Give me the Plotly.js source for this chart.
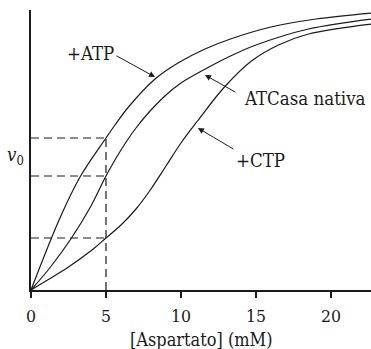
<!DOCTYPE html>
<html><head><meta charset="utf-8">
<script src="https://cdn.plot.ly/plotly-3.0.1.min.js"></script>
<style>html,body{margin:0;padding:0;background:#fff;}#chart{width:371px;height:349px;}</style>
</head><body><div id="chart"></div>
<script>
// [Aspartato] (mM) vs v0 (arbitrary units)
const atpX = [0, 1.93, 3.27, 5, 5.6, 6.5, 8.27, 9.8, 11.6, 13.3, 16, 19, 22.7];
const atpV = [0, 72, 113, 152, 165, 183, 211, 227, 241, 251, 263, 271, 277];
const natX = [0, 1.3, 2.7, 4, 5, 6, 7, 8, 9, 10, 11.5, 13.3, 15, 18.5, 22.7];
const natV = [0, 23, 52, 84, 114, 140, 162, 180, 195, 207, 220, 234, 245, 261, 271];
const ctpX = [0, 1.1, 2.5, 4.15, 5, 6, 7, 8, 9, 10, 11.1, 12.9, 14.7, 16.5, 18.5, 22.7];
const ctpV = [0, 10, 23, 41, 52, 65, 81, 101, 124, 147, 169, 203, 229, 245, 256, 266];
const refX = 5;
const refLevels = [152, 114, 52];
const tickVals = [0, 5, 10, 15, 20];
const tickText = ['0', '5', '10', '15', '20'];

const lineStyle = {color: '#1a1a1a', width: 1.2, shape: 'spline', smoothing: 1};
const traces = [
  {x: atpX, y: atpV, mode: 'lines', line: lineStyle, hoverinfo: 'skip'},
  {x: natX, y: natV, mode: 'lines', line: lineStyle, hoverinfo: 'skip'},
  {x: ctpX, y: ctpV, mode: 'lines', line: lineStyle, hoverinfo: 'skip'}
];

const dash = {color: '#1a1a1a', width: 1.2, dash: '8px,5px'};
const shapes = refLevels.map(v => ({type: 'line', xref: 'x', yref: 'y', x0: 0, x1: refX, y0: v, y1: v, line: dash}));
shapes.push({type: 'line', xref: 'x', yref: 'y', x0: refX, x1: refX, y0: 0, y1: Math.max(...refLevels), line: dash});

const fam = 'DejaVu Serif Condensed, DejaVu Serif';
const mk = size => ({family: fam, size: size, color: '#1a1a1a'});
const font = mk(18.5);
const tickFont = mk(17.5);
const titleFont = mk(18);
const arrow = (x, y, ax, ay) => ({x, y, xref: 'x', yref: 'y', text: '', showarrow: true,
  ax, ay, arrowhead: 2, arrowsize: 1.2, arrowwidth: 1, arrowcolor: '#1a1a1a', standoff: 0});
const label = (x, y, text) => ({x, y, xref: 'x', yref: 'y', text, showarrow: false, font});

const annotations = [
  label(4.0, 237, '+ATP'),
  arrow(8.27, 213, -40, -22),
  label(18.3, 192, 'ATCasa nativa'),
  arrow(11.6, 215, 32, 18),
  label(15.3, 130, '+CTP'),
  arrow(11.13, 162, 37, 22),
  {x: 0, y: 134, xref: 'paper', yref: 'y', xanchor: 'right', xshift: -5, text: '<i>v</i><sub>0</sub>', showarrow: false, font},
  {x: 0.5, y: -0.176, xref: 'paper', yref: 'paper', yanchor: 'middle', text: '[Aspartato] (mM)', showarrow: false, font: titleFont}
];

const layout = {
  width: 371, height: 349,
  margin: {l: 31, r: 0, t: 10, b: 59},
  paper_bgcolor: '#fff', plot_bgcolor: '#fff',
  showlegend: false,
  font: font,
  xaxis: {range: [0, 22.67], showgrid: false, zeroline: false, showline: true, linecolor: '#1a1a1a', linewidth: 2,
    ticks: 'outside', ticklen: 6, tickwidth: 2, tickcolor: '#1a1a1a', tickvals: tickVals, ticktext: tickText,
    ticklabelstandoff: 3, tickfont: tickFont},
  yaxis: {range: [0, 280], showgrid: false, zeroline: false, showline: true, linecolor: '#1a1a1a', linewidth: 2,
    showticklabels: false, ticks: ''},
  shapes, annotations
};
Plotly.newPlot('chart', traces, layout, {staticPlot: true, displayModeBar: false});
</script></body></html>
